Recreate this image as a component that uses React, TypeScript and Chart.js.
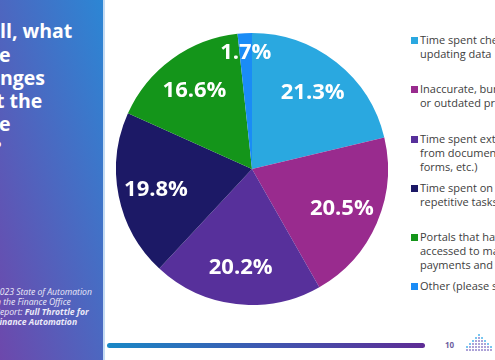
import React, { useEffect, useRef } from "react";
import { Chart, registerables } from "chart.js";

Chart.register(...registerables);

// ---- data ----
const categories: string[][] = [
  ["Time spent checking and", "updating data"],
  ["Inaccurate, burdensome,", "or outdated processes"],
  ["Time spent extracting data", "from documents (invoices,", "forms, etc.)"],
  ["Time spent on manual,", "repetitive tasks"],
  ["Portals that have to be", "accessed to manage", "payments and invoices"],
  ["Other (please specify)"],
];
const values: number[] = [21.3, 20.5, 20.2, 19.8, 16.6, 1.7];
const valueLabels: string[] = ["21.3%", "20.5%", "20.2%", "19.8%", "16.6%", "1.7%"];
const colors: string[] = ["#2AA8E0", "#992B8E", "#57309B", "#1C1966", "#14951A", "#1A8CF6"];

// label radial placement (fraction of the outer radius)
const labelRadius: number[] = [0.72, 0.72, 0.72, 0.72, 0.72, 0.86];

const pieLabels = {
  id: "pieLabels",
  afterDatasetsDraw(chart: any) {
    const ctx = chart.ctx;
    const meta = chart.getDatasetMeta(0);
    ctx.save();
    ctx.font = "bold 22px 'Open Sans'";
    ctx.fillStyle = "#ffffff";
    ctx.textAlign = "center";
    ctx.textBaseline = "middle";
    meta.data.forEach((arc: any, i: number) => {
      const p = arc.getProps(["x", "y", "startAngle", "endAngle", "outerRadius"], true);
      const a = (p.startAngle + p.endAngle) / 2;
      const r = p.outerRadius * labelRadius[i];
      ctx.fillText(valueLabels[i], p.x + Math.cos(a) * r, p.y + Math.sin(a) * r + 1);
    });
    ctx.restore();
  },
};

const titleLines: { text: string; left: number; top: number }[] = [
  { text: "ll, what", left: 0, top: 21 },
  { text: "e", left: -1, top: 45 },
  { text: "nges", left: 0, top: 68 },
  { text: "t the", left: -4, top: 91 },
  { text: "e", left: -1, top: 114 },
  { text: "?", left: -8, top: 138 },
];

const logoCols: number[] = [2, 3, 4, 5, 6, 5, 4, 3, 2];

export default function App() {
  const canvasRef = useRef<HTMLCanvasElement | null>(null);

  useEffect(() => {
    if (!canvasRef.current) return;
    const chart = new Chart(canvasRef.current, {
      type: "pie",
      data: {
        labels: categories.map((c) => c.join(" ")),
        datasets: [
          {
            data: values,
            backgroundColor: colors,
            borderWidth: 0,
            hoverBorderWidth: 0,
            hoverOffset: 0,
          } as any,
        ],
      },
      options: {
        responsive: false,
        maintainAspectRatio: false,
        animation: false,
        devicePixelRatio: 1,
        layout: { padding: 0 },
        plugins: {
          legend: { display: false },
          tooltip: { enabled: false },
        },
        events: [],
      },
      plugins: [pieLabels],
    });
    return () => chart.destroy();
  }, []);

  const legendTop0 = 40.7;
  const legendStep = 49.2;

  return (
    <div
      style={{
        position: "fixed",
        left: 0,
        top: 0,
        width: 495,
        height: 360,
        overflow: "hidden",
        background: "#ffffff",
        fontFamily: "'Open Sans', sans-serif",
      }}
    >
      {/* left panel */}
      <div
        style={{
          position: "absolute",
          left: 0,
          top: 0,
          width: 103,
          height: 360,
          background: "linear-gradient(to top right, #6D48AC, #2C86D4)",
          overflow: "hidden",
        }}
      >
        {titleLines.map((l, i) => (
          <div
            key={i}
            style={{
              position: "absolute",
              left: l.left,
              top: l.top,
              color: "#ffffff",
              fontWeight: 700,
              fontSize: 19.5,
              lineHeight: "20px",
              whiteSpace: "nowrap",
            }}
          >
            {l.text}
          </div>
        ))}
        <div
          style={{
            position: "absolute",
            left: 0,
            top: 287,
            color: "#ECEAF8",
            fontStyle: "italic",
            fontSize: 8.6,
            lineHeight: "10px",
            whiteSpace: "nowrap",
          }}
        >
          <div style={{ marginLeft: -5 }}>2023 State of Automation</div>
          <div style={{ marginLeft: -4 }}>n the Finance Office</div>
          <div style={{ marginLeft: -5 }}>
            Report: <b>Full Throttle for</b>
          </div>
          <div style={{ marginLeft: -5 }}>
            <b>Finance Automation</b>
          </div>
        </div>
      </div>
      <div
        style={{
          position: "absolute",
          left: 103,
          top: 0,
          width: 2,
          height: 360,
          background: "#C4DBF3",
        }}
      />

      {/* chart */}
      <canvas
        ref={canvasRef}
        width={272}
        height={272}
        style={{ position: "absolute", left: 116, top: 33, width: 272, height: 272, display: "block" }}
      />

      {/* legend */}
      {categories.map((lines, i) => {
        const yc = legendTop0 + i * legendStep;
        return (
          <div key={i}>
            <div
              style={{
                position: "absolute",
                left: 411,
                top: yc - 3.5,
                width: 7,
                height: 7,
                background: colors[i],
              }}
            />
            <div
              style={{
                position: "absolute",
                left: 420,
                top: yc - 7.5,
                fontSize: 11,
                lineHeight: "14px",
                color: "#404040",
                whiteSpace: "nowrap",
              }}
            >
              {lines.map((t, j) => (
                <div key={j}>{t}</div>
              ))}
            </div>
          </div>
        );
      })}

      {/* bottom bar */}
      <div
        style={{
          position: "absolute",
          left: 107,
          top: 343,
          width: 318,
          height: 5,
          borderRadius: 3,
          background: "linear-gradient(to right, #1988C6, #3F57B0, #5E2C95)",
        }}
      />
      <div
        style={{
          position: "absolute",
          left: 445,
          top: 340,
          fontSize: 8,
          lineHeight: "10px",
          fontWeight: 700,
          color: "#6D5EA0",
        }}
      >
        10
      </div>
      {/* logo */}
      {logoCols.map((n, c) => {
        const x = 466 + c * 3;
        const dots = [];
        for (let k = 0; k < n; k++) {
          const y = 349 - k * 3;
          dots.push(
            <div
              key={k}
              style={{
                position: "absolute",
                left: x,
                top: y,
                width: 2,
                height: 2,
                borderRadius: 1,
                background: k === n - 1 ? "#2CA6E6" : "#7E6CC0",
                opacity: 0.85,
              }}
            />
          );
        }
        return <React.Fragment key={c}>{dots}</React.Fragment>;
      })}
    </div>
  );
}
